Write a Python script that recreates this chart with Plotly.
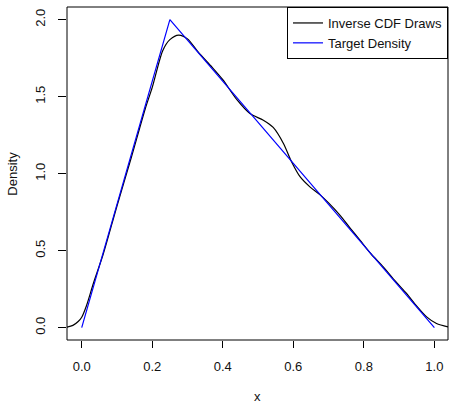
import plotly.graph_objects as go

# Kernel density estimate of the inverse-CDF draws
kde_x = [-0.042, -0.025, -0.010, 0.000, 0.014, 0.033, 0.060, 0.100, 0.140, 0.180,
         0.200, 0.230, 0.250, 0.275, 0.300, 0.330, 0.370, 0.400, 0.440, 0.477,
         0.515, 0.543, 0.572, 0.595, 0.619, 0.647, 0.676, 0.700, 0.732, 0.760,
         0.789, 0.820, 0.855, 0.890, 0.921, 0.950, 0.978, 1.006, 1.039]
kde_y = [0.004, 0.015, 0.040, 0.068, 0.146, 0.287, 0.470, 0.790, 1.100, 1.420,
         1.560, 1.800, 1.870, 1.900, 1.875, 1.790, 1.690, 1.610, 1.480, 1.390,
         1.347, 1.300, 1.196, 1.077, 0.980, 0.914, 0.862, 0.810, 0.731, 0.650,
         0.568, 0.480, 0.395, 0.300, 0.222, 0.140, 0.070, 0.027, 0.005]

# Triangular target density: support [0, 1], mode 0.25
target_x = [0.0, 0.25, 1.0]
target_y = [0.0, 2.0, 0.0]

x_ticks = [0.0, 0.2, 0.4, 0.6, 0.8, 1.0]
x_tick_text = ["0.0", "0.2", "0.4", "0.6", "0.8", "1.0"]
y_ticks = [0.0, 0.5, 1.0, 1.5, 2.0]
y_tick_text = ["0.0", "0.5", "1.0", "1.5", "2.0"]

FONT = "Liberation Sans, Arial, Helvetica, sans-serif"

fig = go.Figure()
fig.add_trace(go.Scatter(
    x=kde_x, y=kde_y, mode="lines", name="Inverse CDF Draws",
    line=dict(color="black", width=1.2, shape="spline", smoothing=0.8),
))
fig.add_trace(go.Scatter(
    x=target_x, y=target_y, mode="lines", name="Target Density",
    line=dict(color="blue", width=1.2),
))

fig.update_layout(
    width=449, height=403,
    margin=dict(l=67, r=1, t=7, b=63),
    paper_bgcolor="white", plot_bgcolor="white",
    font=dict(family=FONT, size=13, color="#111111"),
    showlegend=True,
    legend=dict(
        x=1, y=1, xanchor="right", yanchor="top",
        bgcolor="white", bordercolor="black", borderwidth=1,
        font=dict(size=13), itemwidth=30, tracegroupgap=0,
    ),
    shapes=[dict(type="rect", xref="paper", yref="paper", x0=0, y0=0, x1=1, y1=1,
                 line=dict(color="black", width=1))],
    annotations=[
        dict(text="x", xref="paper", yref="paper", x=0.5, y=-0.171,
             xanchor="center", yanchor="middle", showarrow=False,
             font=dict(size=13)),
        dict(text="Density", xref="paper", yref="paper", x=-0.144, y=0.5,
             xanchor="center", yanchor="middle", showarrow=False, textangle=-90,
             font=dict(size=13)),
    ],
)

fig.update_xaxes(
    range=[-0.0417, 1.0386], tickvals=x_ticks, ticktext=x_tick_text,
    showgrid=False, zeroline=False, showline=False,
    ticks="outside", ticklen=7, tickcolor="black", tickwidth=1,
    ticklabelstandoff=7,
)
fig.update_yaxes(
    range=[-0.08, 2.082], tickvals=y_ticks, ticktext=y_tick_text,
    showgrid=False, zeroline=False, showline=False,
    ticks="outside", ticklen=8, tickcolor="black", tickwidth=1,
    tickangle=-90, ticklabelstandoff=8,
)

fig.write_html("out.html")
